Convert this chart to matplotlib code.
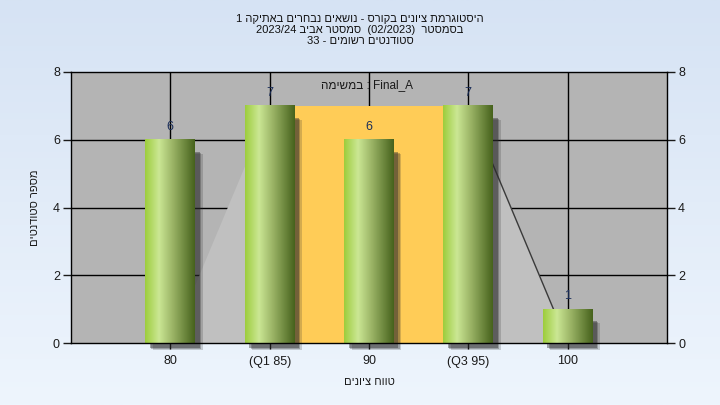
import numpy as np
import matplotlib
matplotlib.use("Agg")
import matplotlib.pyplot as plt
from matplotlib.patches import Rectangle
from matplotlib.colors import LinearSegmentedColormap

plt.rcParams['font.family'] = ['Liberation Sans', 'DejaVu Sans']

# ---------------- data ----------------
categories = ["80", "(Q1 85)", "90", "(Q3 95)", "100"]
counts = [6, 7, 6, 7, 1]
iqr_start, iqr_end, iqr_height = 1, 3, 7          # Q1..Q3 band (category index)
curve_x = [0, 1, 3, 4]                             # light-gray distribution outline
curve_y = [0, 7, 7, 0]
y_ticks = [0, 2, 4, 6, 8]

# Hebrew strings in logical order; converted to visual order for drawing
title_lines = ["היסטוגרמת ציונים בקורס - נושאים נבחרים באתיקה 1",
               "בסמסטר  (02/2023)  סמסטר אביב 2023/24",
               "סטודנטים רשומים - 33"]
task_label = "Final_A : במשימה"
x_title = "טווח ציונים"
y_title = "מספר סטודנטים"


def is_heb(ch):
    return '\u0590' <= ch <= '\u05FF'


def visual(s):
    """Very small RTL reordering: reverse the string, keep LTR runs intact."""
    tokens = []
    buf = ""
    mode = None
    for ch in s:
        m = 'R' if is_heb(ch) else ('N' if ch in " -:" else 'L')
        if m == 'N':
            if buf:
                tokens.append((mode, buf))
            tokens.append(('N', ch))
            buf, mode = "", None
            continue
        if mode is None or m == mode:
            buf += ch
            mode = m
        else:
            tokens.append((mode, buf))
            buf, mode = ch, m
    if buf:
        tokens.append((mode, buf))
    out = []
    for m, t in reversed(tokens):
        out.append(t[::-1] if m == 'R' else t)
    return "".join(out)


# ---------------- figure ----------------
fig = plt.figure(figsize=(7.2, 4.05), dpi=100)

bg = fig.add_axes([0, 0, 1, 1], zorder=-10)
grad = np.linspace(0, 1, 256).reshape(-1, 1)
bg_cmap = LinearSegmentedColormap.from_list("bg", ["#D6E3F4", "#EEF5FD"])
bg.imshow(grad, aspect='auto', cmap=bg_cmap, extent=(0, 1, 0, 1), origin='upper')
bg.set_axis_off()

L, R, T, B = 71 / 720, 667 / 720, 1 - 72 / 405, 1 - 343 / 405
ax = fig.add_axes([L, B, R - L, T - B])
ax.set_facecolor("#B4B4B4")

xs = np.arange(len(categories))

# grid
for yv in y_ticks[1:-1]:
    ax.axhline(yv, color="black", lw=1, zorder=0.5)
for xv in xs:
    ax.axvline(xv, color="black", lw=1, zorder=0.5)

# light-gray distribution polygon
ax.fill_between(curve_x, curve_y, 0, color="#C0C0C0", lw=0, zorder=1)
ax.plot(curve_x[2:], curve_y[2:], color="#3A3A3A", lw=1, zorder=1.6)

# IQR band
ax.add_patch(Rectangle((iqr_start, 0), iqr_end - iqr_start, iqr_height,
                       facecolor="#FFCC57", edgecolor="none", zorder=1.5))

# bars with gradient and shadow
bar_cmap = LinearSegmentedColormap.from_list(
    "bar", [(0.0, "#9DCD3C"), (0.28, "#CBE794"), (0.55, "#9CB567"),
            (1.0, "#46621C")])
hw = 0.25
bgrad = np.linspace(0, 1, 256).reshape(1, -1)
for i, v in zip(xs, counts):
    for k, (dx, a) in enumerate([(0.075, 0.2), (0.06, 0.28), (0.045, 0.4)]):
        ax.add_patch(Rectangle((i - hw + dx, -0.05 - dx * 2.2), 2 * hw, v - 0.2,
                               facecolor="#2A2A2A", alpha=a, edgecolor="none",
                               zorder=2, clip_on=False))
    ax.imshow(bgrad, extent=(i - hw, i + hw, 0, v), aspect='auto',
              cmap=bar_cmap, zorder=3, interpolation='bilinear')
    ax.text(i, v + 0.2, str(v), ha='center', va='bottom', fontsize=9,
            color="#1B2E5A", zorder=4)

ax.text(len(categories) / 2 - 0.5 - 0.02, 7.78, visual(task_label), ha='center',
        va='top', fontsize=8.5, color="#1A1A1A", zorder=4)

ax.set_xlim(-1, len(categories))
ax.set_ylim(0, 8)
ax.set_xticks(xs)
ax.set_xticklabels(categories, fontsize=9, color="#1A1A1A")
ax.set_yticks(y_ticks)
ax.tick_params(axis='y', labelsize=9, colors="#1A1A1A", length=6, width=1,
               left=True, right=True, labelleft=True, labelright=True, pad=2)
ax.tick_params(axis='x', length=4, width=1, pad=5)
for sp in ax.spines.values():
    sp.set_color("black")
    sp.set_linewidth(1)
    sp.set_zorder(5)

ax.set_xlabel(visual(x_title), fontsize=8, color="#1A1A1A", labelpad=7)
ax.set_ylabel(visual(y_title), fontsize=8, color="#1A1A1A", labelpad=9)

fig.text(0.5, 1 - 30 / 405, "\n".join(visual(t) for t in title_lines),
         ha='center', va='center', fontsize=8, color="#111111",
         linespacing=1.15)

fig.savefig("out.png", dpi=100)
